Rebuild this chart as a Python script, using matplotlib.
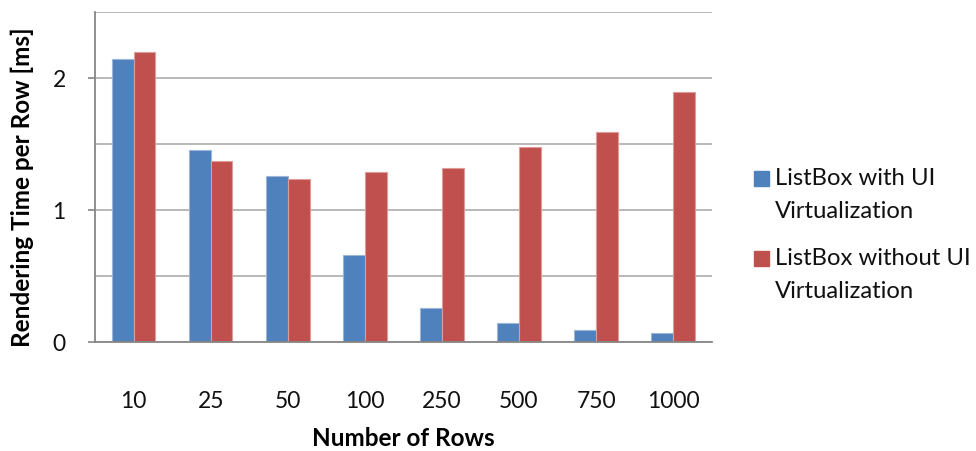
import matplotlib
matplotlib.use("Agg")
import matplotlib.pyplot as plt
from matplotlib.patches import Rectangle
import numpy as np

categories = ["10", "25", "50", "100", "250", "500", "750", "1000"]
with_virt = [2.146, 1.457, 1.26, 0.659, 0.262, 0.144, 0.093, 0.07]
without_virt = [2.197, 1.371, 1.235, 1.29, 1.32, 1.482, 1.59, 1.90]
series_names = ["ListBox with UI\nVirtualization", "ListBox without UI\nVirtualization"]
colors = ["#4F81BD", "#C0504D"]
edge_colors = ["#9DB6D8", "#DB9C9A"]
y_ticks = [0, 1, 2]

plt.rcParams['font.family'] = ['Lato', 'DejaVu Sans']

fig = plt.figure(figsize=(9.76, 4.51), dpi=100)
ax = fig.add_axes([95/976, 1-342.3/451, (711.7-95)/976, (342.3-12.3)/451])

x = np.arange(len(categories))
w = 0.283
for i, (vals, c, ec) in enumerate(zip([with_virt, without_virt], colors, edge_colors)):
    ax.bar(x + (i - 0.5) * w, vals, width=w, color=c, edgecolor=ec, linewidth=0.8, zorder=3)

ax.set_xlim(-0.5, len(categories) - 0.5)
ax.set_ylim(0, 2.5)
ax.set_yticks(y_ticks)
ax.set_yticks(np.arange(0, 2.51, 0.5), minor=True)
ax.grid(True, axis='y', which='both', color='#B3B3B3', linewidth=1.3, zorder=0)
ax.tick_params(axis='y', which='minor', length=0)
ax.tick_params(axis='y', which='major', length=5, width=1.2, color='#868686',
               labelsize=16.5, pad=16, labelcolor='#111111')
ax.set_xticks(x)
ax.set_xticklabels(categories)
ax.tick_params(axis='x', length=0, labelsize=16.5, pad=35, labelcolor='#111111')
for s in ['top', 'right']:
    ax.spines[s].set_visible(False)
for s in ['left', 'bottom']:
    ax.spines[s].set_color('#868686')
    ax.spines[s].set_linewidth(1.3)
    ax.spines[s].set_zorder(4)

ax.set_xlabel("Number of Rows", fontsize=17.5, fontweight='bold', va='center')
ax.xaxis.set_label_coords(0.5, -(439-342.3)/330)
ax.set_ylabel("Rendering Time per Row [ms]", fontsize=17.5, fontweight='bold', va='center')
ax.yaxis.set_label_coords(-(95-22)/616.7, 0.5 - (186.7-177.3)/330)

# legend drawn manually
sq = 14.5
entry_tops = [171, 251]
for name, c, top in zip(series_names, colors, entry_tops):
    fig.patches.append(Rectangle((754/976, 1-(top+sq)/451), sq/976, sq/451,
                                 transform=fig.transFigure, color=c))
    for j, line in enumerate(name.split("\n")):
        fig.text(775/976, 1-(top + sq/2 + 33*j)/451, line, fontsize=17.2,
                 va='center', ha='left', color='#111111')

fig.savefig("out.png", dpi=100)
